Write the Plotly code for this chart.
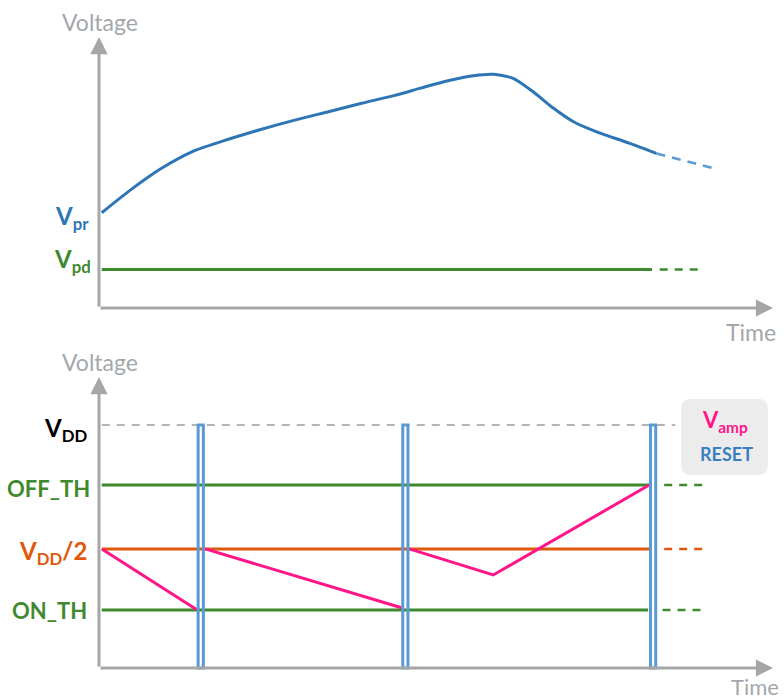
import plotly.graph_objects as go

# ---------------- data (arbitrary time / voltage units) -------------
# Top panel: photoreceptor voltage V_pr and V_pd level
VPR_T = [0.5, 5.3, 11.3, 16.8, 23.4, 29.4, 35.4, 41.5, 47.5, 53.5, 58.0, 62.9,
         67.7, 71.3, 74.9, 78.5, 82.2, 85.8, 90.0, 96.0, 100.8]
VPR_V = [39.7, 48.5, 58.2, 65.1, 70.3, 74.5, 78.3, 81.8, 85.3, 88.6, 91.5, 94.6,
         96.8, 97.4, 95.7, 90.1, 83.2, 77.6, 73.4, 68.6, 64.4]
VPR_EXT_T = [100.8, 111.0]
VPR_EXT_V = [64.4, 58.3]
VPD = 16.0
VPD_SOLID_T = [0.5, 100.0]
VPD_EXT_T = [101.4, 108.3]

# Bottom panel: thresholds, amplifier voltage and reset pulses
VDD = 1.0
OFF_TH = 0.753
VDD_HALF = 0.49
ON_TH = 0.239
VDD_T = [0.5, 104.2]
LEVEL_SOLID_T = [0.5, 100.0]
ON_SOLID_T = [0.5, 99.3]
LEVEL_EXT_T = [102.2, 109.2]
ON_EXT_T = [101.9, 108.9]
RESET_T = [18.4, 55.4, 100.2]
VAMP_T = [0.5, 17.7, None, 19.2, 54.7, None, 56.1, 71.3, 99.5]
VAMP_V = [0.49, 0.24, None, 0.49, 0.248, None, 0.49, 0.383, 0.753]

# ---------------- styling ----------------
W, H = 784, 700
X0_PX, PX_PER_T = 99.0, 5.53
SPLIT_PY = 345.0
TOP_BASE_PY, TOP_PX_PER_V = 308.0, 2.4
BOT_BASE_PY, BOT_PX_PER_V = 668.0, 243.0

BLUE = "#2e75b6"
BLUE_LIGHT = "#5b9bd5"
GREEN = "#3f8a2e"
ORANGE = "#e0580c"
PINK = "#ff158a"
GRAY = "#a6a6a6"
FONT = "Lato"


def paper(px, py):
    return px / W, 1 - py / H


fig = go.Figure()

# top panel traces
fig.add_trace(go.Scatter(x=VPR_T, y=VPR_V, mode="lines",
                         line=dict(color=BLUE, width=3, shape="spline", smoothing=0.7),
                         xaxis="x", yaxis="y", hoverinfo="skip"))
fig.add_trace(go.Scatter(x=VPR_EXT_T, y=VPR_EXT_V, mode="lines",
                         line=dict(color=BLUE_LIGHT, width=2.5, dash="9px,7px"),
                         xaxis="x", yaxis="y", hoverinfo="skip"))
fig.add_trace(go.Scatter(x=VPD_SOLID_T, y=[VPD, VPD], mode="lines",
                         line=dict(color=GREEN, width=3), xaxis="x", yaxis="y", hoverinfo="skip"))
fig.add_trace(go.Scatter(x=VPD_EXT_T, y=[VPD, VPD], mode="lines",
                         line=dict(color=GREEN, width=2.5, dash="8px,7px"),
                         xaxis="x", yaxis="y", hoverinfo="skip"))

# bottom panel traces
fig.add_trace(go.Scatter(x=VDD_T, y=[VDD, VDD], mode="lines",
                         line=dict(color="#b4b4b4", width=2, dash="8px,7px"),
                         xaxis="x2", yaxis="y2", hoverinfo="skip"))
for lvl, col, solid_t, ext_t in [(OFF_TH, GREEN, LEVEL_SOLID_T, LEVEL_EXT_T),
                                 (VDD_HALF, ORANGE, LEVEL_SOLID_T, LEVEL_EXT_T),
                                 (ON_TH, GREEN, ON_SOLID_T, ON_EXT_T)]:
    fig.add_trace(go.Scatter(x=solid_t, y=[lvl, lvl], mode="lines",
                             line=dict(color=col, width=3), xaxis="x2", yaxis="y2",
                             hoverinfo="skip"))
    fig.add_trace(go.Scatter(x=ext_t, y=[lvl, lvl], mode="lines",
                             line=dict(color=col, width=2.5, dash="8px,7px"),
                             xaxis="x2", yaxis="y2", hoverinfo="skip"))
fig.add_trace(go.Scatter(x=VAMP_T, y=VAMP_V, mode="lines", connectgaps=False,
                         line=dict(color=PINK, width=3), xaxis="x2", yaxis="y2",
                         hoverinfo="skip"))

# reset pulses
shapes = []
for t in RESET_T:
    shapes.append(dict(type="rect", xref="x2", yref="y2", x0=t - 0.47, x1=t + 0.47,
                       y0=0, y1=VDD, line=dict(color=BLUE_LIGHT, width=3),
                       fillcolor="rgba(255,255,255,0)", layer="above"))

# legend box (rounded)
bx0, by0, bx1, by1, r = 681, 399, 768, 475, 10


def P(px, py):
    x, y = paper(px, py)
    return f"{x:.5f},{y:.5f}"


path = (f"M {P(bx0 + r, by0)} L {P(bx1 - r, by0)} Q {P(bx1, by0)} {P(bx1, by0 + r)} "
        f"L {P(bx1, by1 - r)} Q {P(bx1, by1)} {P(bx1 - r, by1)} "
        f"L {P(bx0 + r, by1)} Q {P(bx0, by1)} {P(bx0, by1 - r)} "
        f"L {P(bx0, by0 + r)} Q {P(bx0, by0)} {P(bx0 + r, by0)} Z")
shapes.append(dict(type="path", xref="paper", yref="paper", path=path,
                   fillcolor="#ececec", line=dict(width=0), layer="below"))

annotations = []
# axes as arrows
for xr, yr, top_v in [("x", "y", (TOP_BASE_PY - 37) / TOP_PX_PER_V),
                      ("x2", "y2", (BOT_BASE_PY - 377) / BOT_PX_PER_V)]:
    annotations.append(dict(xref=xr, yref=yr, axref=xr, ayref=yr, x=0, y=top_v, ax=0, ay=0,
                            showarrow=True, arrowhead=2, arrowsize=1.15, arrowwidth=3,
                            arrowcolor=GRAY, text=""))
    annotations.append(dict(xref=xr, yref=yr, axref=xr, ayref=yr, x=121.9, y=0, ax=0, ay=0,
                            showarrow=True, arrowhead=2, arrowsize=1.15, arrowwidth=3,
                            arrowcolor=GRAY, text=""))


def label(text, px, py, color, size, xanchor="center", bold=False):
    x, y = paper(px, py)
    if bold:
        text = f"<b>{text}</b>"
    annotations.append(dict(xref="paper", yref="paper", x=x, y=y, text=text,
                            showarrow=False, xanchor=xanchor, yanchor="middle",
                            font=dict(family=FONT, size=size, color=color)))


label("Voltage", 100, 22, "#a3a7ab", 23)
label("Time", 751, 332, "#a3a7ab", 23)
label("Voltage", 100, 362, "#a3a7ab", 23)
label("Time", 755, 686, "#a3a7ab", 22)

label("V<sub>pr</sub>", 91, 217, BLUE, 24, "right", True)
label("V<sub>pd</sub>", 93, 260, GREEN, 24, "right", True)
label("V<sub>DD</sub>", 89, 429, "#000000", 24, "right", True)
label("OFF_TH", 92, 488, GREEN, 22, "right", True)
label("V<sub>DD</sub>/2", 89, 552, ORANGE, 24, "right", True)
label("ON_TH", 89, 610, GREEN, 22, "right", True)
label("V<sub>amp</sub>", 725, 421, PINK, 22, "center", True)
label("RESET", 726, 454, "#3a7fc1", 18, "center", True)

x_lo = -X0_PX / PX_PER_T
x_hi = (W - X0_PX) / PX_PER_T
split = (H - SPLIT_PY) / H
top_rng = [(TOP_BASE_PY - SPLIT_PY) / TOP_PX_PER_V, TOP_BASE_PY / TOP_PX_PER_V]
bot_rng = [(BOT_BASE_PY - H) / BOT_PX_PER_V, (BOT_BASE_PY - SPLIT_PY) / BOT_PX_PER_V]

ax_common = dict(visible=False, showgrid=False, zeroline=False, fixedrange=True)
fig.update_layout(
    width=W, height=H, margin=dict(l=0, r=0, t=0, b=0),
    paper_bgcolor="white", plot_bgcolor="white", showlegend=False,
    xaxis=dict(domain=[0, 1], range=[x_lo, x_hi], anchor="y", **ax_common),
    yaxis=dict(domain=[split, 1], range=top_rng, anchor="x", **ax_common),
    xaxis2=dict(domain=[0, 1], range=[x_lo, x_hi], anchor="y2", **ax_common),
    yaxis2=dict(domain=[0, split], range=bot_rng, anchor="x2", **ax_common),
    shapes=shapes, annotations=annotations,
)

fig.write_html("out.html", config={"displayModeBar": False},
               post_script="document.body.style.margin='0px';document.body.style.overflow='hidden';")
